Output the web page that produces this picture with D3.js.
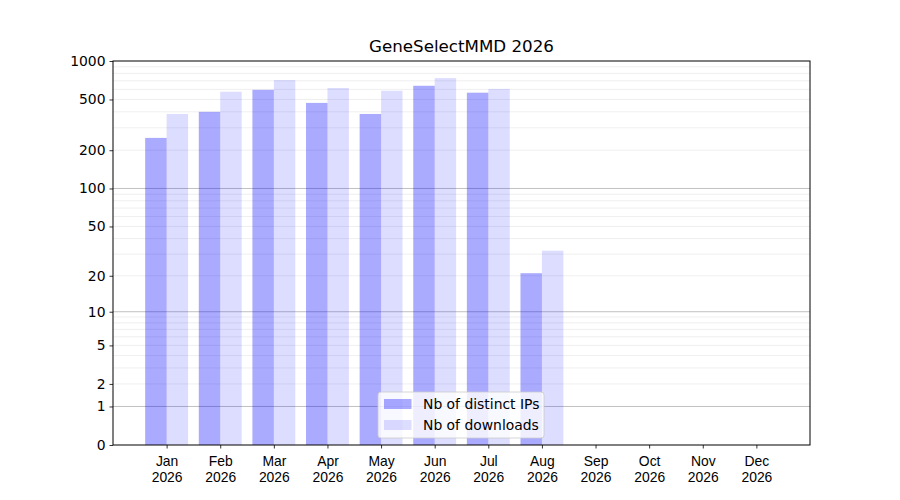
<!DOCTYPE html>
<html>
<head>
<meta charset="utf-8">
<script src="https://cdn.jsdelivr.net/npm/d3@7"></script>
<style>
  body { margin: 0; background: #fff; }
  svg { font-family: "DejaVu Sans", sans-serif; }
</style>
</head>
<body>
<div id="chart"></div>
<script>
// data
var months = ['Jan','Feb','Mar','Apr','May','Jun','Jul','Aug','Sep','Oct','Nov','Dec'];
var year = '2026';
var distinctIPs = [250, 400, 595, 470, 385, 640, 565, 21];
var downloads = [385, 575, 710, 615, 585, 735, 605, 32];
var yTicks = [0, 1, 2, 5, 10, 20, 50, 100, 200, 500, 1000];
var majorGrid = [1, 10, 100];
var minorGrid = [2,3,4,5,6,7,8,9, 20,30,40,50,60,70,80,90, 200,300,400,500,600,700,800,900];

var W = 900, H = 500;
var margin = {top: 61, right: 90, bottom: 55, left: 113};

var svg = d3.select('#chart').append('svg')
  .attr('width', W).attr('height', H);

var x = d3.scaleLinear().domain([-1, 12]).range([margin.left, W - margin.right]);
var y = d3.scaleSymlog().constant(1).domain([0, 1000]).range([H - margin.bottom, margin.top]);

// grid
svg.append('g').selectAll('line')
  .data(minorGrid).enter().append('line')
  .attr('x1', x(-1)).attr('x2', x(12))
  .attr('y1', d => y(d)).attr('y2', d => y(d))
  .attr('stroke', '#ebebeb').attr('stroke-width', 0.8);
svg.append('g').selectAll('line')
  .data(majorGrid).enter().append('line')
  .attr('x1', x(-1)).attr('x2', x(12))
  .attr('y1', d => y(d)).attr('y2', d => y(d))
  .attr('stroke', '#b0b0b0').attr('stroke-width', 0.8);

// bars
var bw = 0.4;
svg.append('g').selectAll('rect')
  .data(distinctIPs).enter().append('rect')
  .attr('x', (d, i) => x(i - bw))
  .attr('width', x(bw) - x(0))
  .attr('y', d => y(d))
  .attr('height', d => y(0) - y(d))
  .attr('fill', 'blue').attr('fill-opacity', 0.333);
svg.append('g').selectAll('rect')
  .data(downloads).enter().append('rect')
  .attr('x', (d, i) => x(i))
  .attr('width', x(bw) - x(0))
  .attr('y', d => y(d))
  .attr('height', d => y(0) - y(d))
  .attr('fill', 'blue').attr('fill-opacity', 0.133);

// axes
var yAxis = svg.append('g')
  .attr('transform', 'translate(' + margin.left + ',0)')
  .call(d3.axisLeft(y).tickValues(yTicks).tickFormat(d3.format('d')).tickSize(3.5).tickPadding(4));
var xAxis = svg.append('g')
  .attr('transform', 'translate(0,' + (H - margin.bottom) + ')')
  .call(d3.axisBottom(x).tickValues(d3.range(12)).tickFormat('').tickSize(3.5));

xAxis.selectAll('.tick').append('text')
  .attr('fill', '#000').attr('text-anchor', 'middle')
  .attr('font-size', 13.9)
  .each(function(d) {
    var t = d3.select(this);
    t.append('tspan').attr('x', 0).attr('y', 21).text(months[d]);
    t.append('tspan').attr('x', 0).attr('y', 37).text(year);
  });

[xAxis, yAxis].forEach(function(a) {
  a.select('.domain').remove();
  a.selectAll('.tick line').attr('stroke', '#000').attr('stroke-width', 0.8);
});
yAxis.selectAll('.tick text').attr('font-size', 13.9).attr('fill', '#000').attr('font-family', '"DejaVu Sans", sans-serif');

// frame
svg.append('rect')
  .attr('x', margin.left).attr('y', margin.top)
  .attr('width', x(12) - x(-1)).attr('height', y(0) - y(1000))
  .attr('fill', 'none').attr('stroke', '#000').attr('stroke-width', 1);

// title
svg.append('text')
  .attr('x', (x(-1) + x(12)) / 2).attr('y', 52)
  .attr('text-anchor', 'middle').attr('font-size', 16.7)
  .text('GeneSelectMMD ' + year);

// legend
var series = [
  {name: 'Nb of distinct IPs', op: 0.333},
  {name: 'Nb of downloads', op: 0.133}
];
var lg = svg.append('g').attr('transform', 'translate(378,392)');
lg.append('rect')
  .attr('width', 166).attr('height', 46).attr('rx', 3)
  .attr('fill', '#fff').attr('fill-opacity', 0.8)
  .attr('stroke', '#cccccc').attr('stroke-width', 0.8);
series.forEach(function(s, i) {
  lg.append('rect')
    .attr('x', 6).attr('y', 7 + i * 21).attr('width', 27.5).attr('height', 10)
    .attr('fill', 'blue').attr('fill-opacity', s.op);
  lg.append('text')
    .attr('x', 45).attr('y', 16.5 + i * 21)
    .attr('font-size', 13.9)
    .text(s.name);
});
</script>
</body>
</html>
